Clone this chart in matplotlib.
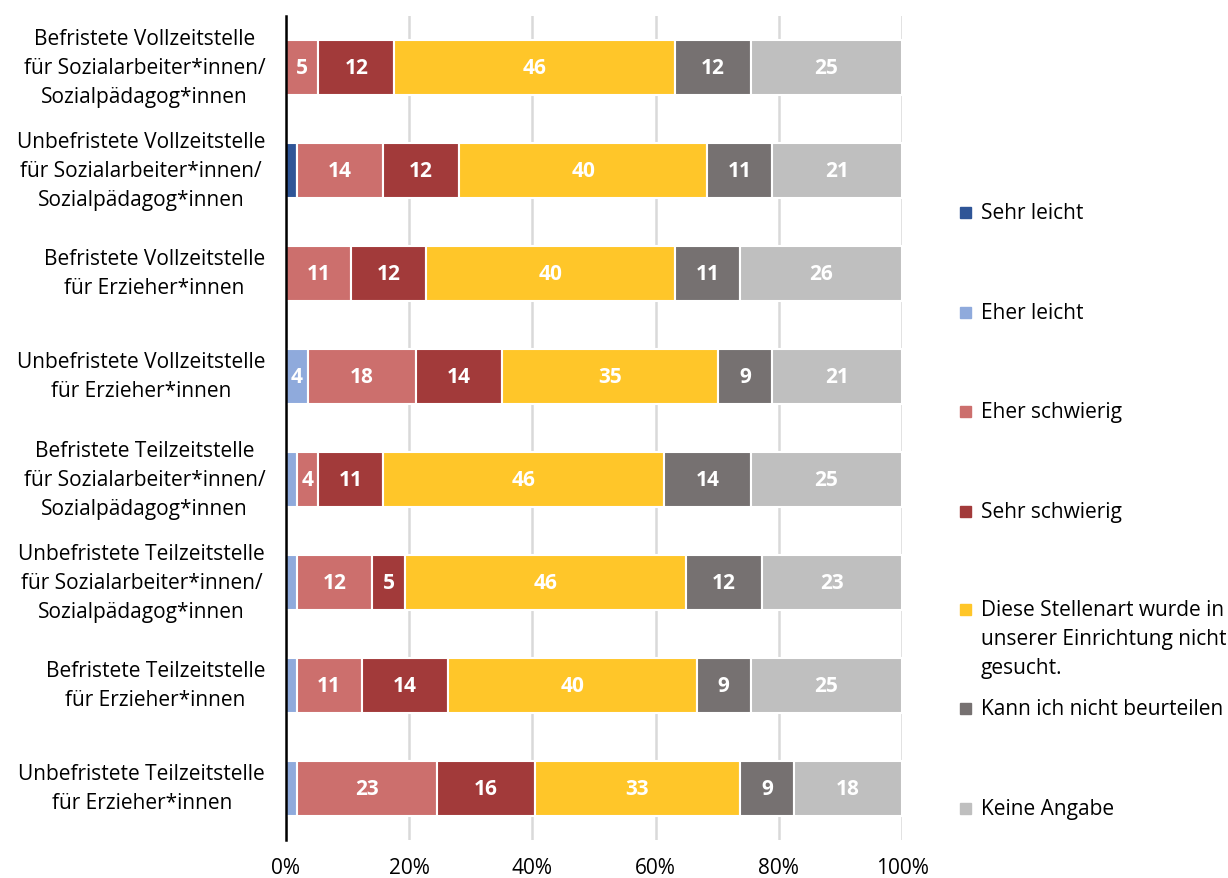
import numpy as np
import matplotlib
matplotlib.use("Agg")
import matplotlib.pyplot as plt
from matplotlib.patches import Rectangle

plt.rcParams['font.family'] = ['Open Sans', 'DejaVu Sans']

# answers per job type (counts, n = 57 per row)
categories = [
    "Befristete Vollzeitstelle\nfür Sozialarbeiter*innen/\nSozialpädagog*innen",
    "Unbefristete Vollzeitstelle\nfür Sozialarbeiter*innen/\nSozialpädagog*innen",
    "Befristete Vollzeitstelle\nfür Erzieher*innen",
    "Unbefristete Vollzeitstelle\nfür Erzieher*innen",
    "Befristete Teilzeitstelle\nfür Sozialarbeiter*innen/\nSozialpädagog*innen",
    "Unbefristete Teilzeitstelle\nfür Sozialarbeiter*innen/\nSozialpädagog*innen",
    "Befristete Teilzeitstelle\nfür Erzieher*innen",
    "Unbefristete Teilzeitstelle\nfür Erzieher*innen",
]
series = [
    "Sehr leicht",
    "Eher leicht",
    "Eher schwierig",
    "Sehr schwierig",
    "Diese Stellenart wurde in\nunserer Einrichtung nicht\ngesucht.",
    "Kann ich nicht beurteilen",
    "Keine Angabe",
]
sehr_leicht    = [0, 1, 0, 0, 0, 0, 0, 0]
eher_leicht    = [0, 0, 0, 2, 1, 1, 1, 1]
eher_schwierig = [3, 8, 6, 10, 2, 7, 6, 13]
sehr_schwierig = [7, 7, 7, 8, 6, 3, 8, 9]
nicht_gesucht  = [26, 23, 23, 20, 26, 26, 23, 19]
kann_nicht     = [7, 6, 6, 5, 8, 7, 5, 5]
keine_angabe   = [14, 12, 15, 12, 14, 13, 14, 10]

colors = ["#2F5597", "#8FAADC", "#CC6F6D", "#A23A3A", "#FFC629", "#767171", "#BFBFBF"]

counts = np.array([sehr_leicht, eher_leicht, eher_schwierig, sehr_schwierig,
                   nicht_gesucht, kann_nicht, keine_angabe], dtype=float)
pct = counts / counts.sum(axis=0) * 100

FS = 15

fig = plt.figure(figsize=(12.28, 8.79), dpi=100)
ax = fig.add_axes([286 / 1228, 1 - 841 / 879, 616 / 1228, 824 / 879])

y = np.arange(len(categories))
left = np.zeros(len(categories))
for i in range(len(series)):
    ax.barh(y, pct[i], left=left, height=0.535, color=colors[i],
            edgecolor="white", linewidth=1.5, zorder=3)
    for j in range(len(categories)):
        v = pct[i, j]
        if v >= 3:
            ax.text(left[j] + v / 2, y[j], f"{v:.0f}", ha="center", va="center",
                    color="white", fontsize=FS, fontweight="bold", zorder=4)
    left += pct[i]

ax.set_xlim(0, 100)
ax.set_ylim(len(categories) - 0.5, -0.5)
ax.set_xticks(np.arange(0, 101, 20))
ax.set_xticklabels([f"{t}%" for t in range(0, 101, 20)], fontsize=FS)
ax.set_yticks(y)
ax.set_yticklabels(categories, fontsize=FS, multialignment="center", linespacing=1.5)
for lab in ax.get_yticklabels():
    lab.set_verticalalignment("center")
ax.tick_params(axis="both", length=0, colors="#000000")
ax.tick_params(axis="x", pad=12)
ax.tick_params(axis="y", pad=15)
ax.grid(axis="x", color="#D9D9D9", linewidth=1.8, zorder=0)
for s in ["top", "right", "bottom"]:
    ax.spines[s].set_visible(False)
ax.spines["left"].set_color("black")
ax.spines["left"].set_linewidth(1.8)
ax.spines["left"].set_zorder(5)

# legend on the right side
legend_y = [213, 313, 412, 512, 610, 709, 809]
for i, name in enumerate(series):
    yy = 1 - legend_y[i] / 879
    fig.patches.append(Rectangle((960 / 1228, yy - 6 / 879), 11 / 1228, 11 / 879,
                                 transform=fig.transFigure, color=colors[i]))
    fig.text(981 / 1228, yy + 10 / 879, name, ha="left", va="top", fontsize=FS,
             linespacing=1.5)

fig.savefig("out.png", dpi=100)
